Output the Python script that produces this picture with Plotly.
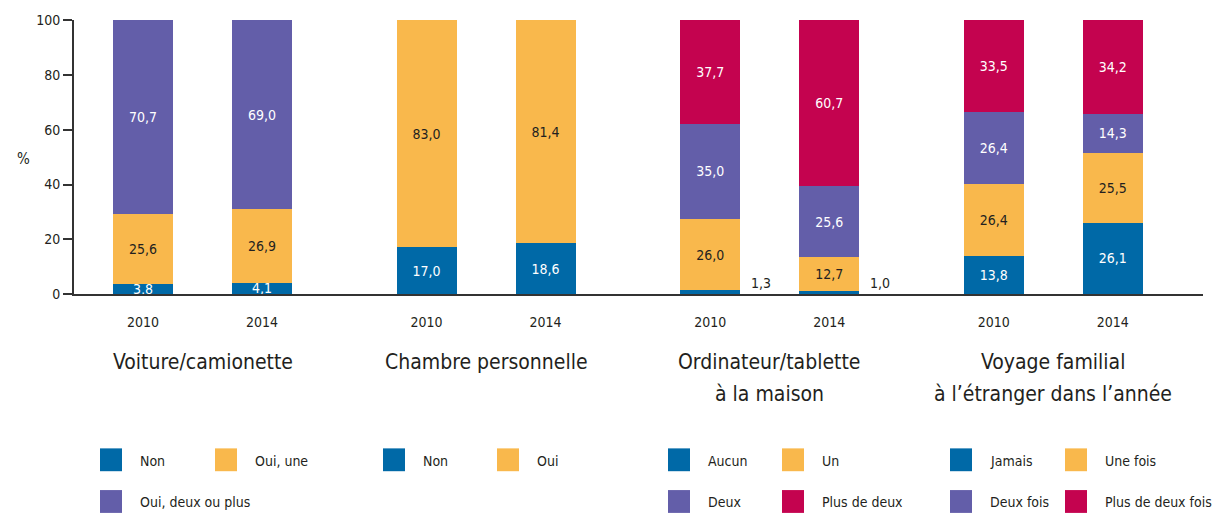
import plotly.graph_objects as go

# ---------------- data ----------------
years = ["2010", "2014"]
group_labels = ["Voiture/camionette", "Chambre personnelle",
                "Ordinateur/tablette\nà la maison",
                "Voyage familial\nà l’étranger dans l’année"]

voiture_non = [3.8, 4.1]
voiture_une = [25.6, 26.9]
voiture_deux = [70.7, 69.0]

chambre_non = [17.0, 18.6]
chambre_oui = [83.0, 81.4]

ordi_aucun = [1.3, 1.0]
ordi_un = [26.0, 12.7]
ordi_deux = [35.0, 25.6]
ordi_plus = [37.7, 60.7]

voyage_jamais = [13.8, 26.1]
voyage_une = [26.4, 25.5]
voyage_deux = [26.4, 14.3]
voyage_plus = [33.5, 34.2]

series_by_group = [
    [voiture_non, voiture_une, voiture_deux],
    [chambre_non, chambre_oui],
    [ordi_aucun, ordi_un, ordi_deux, ordi_plus],
    [voyage_jamais, voyage_une, voyage_deux, voyage_plus],
]
legend_labels = [
    ["Non", "Oui, une", "Oui, deux ou plus"],
    ["Non", "Oui"],
    ["Aucun", "Un", "Deux", "Plus de deux"],
    ["Jamais", "Une fois", "Deux fois", "Plus de deux fois"],
]

# ---------------- style ----------------
FONT = "DejaVu Sans Condensed, DejaVu Sans, sans-serif"
colors = ["#0069a7", "#f9b84c", "#635ea9", "#c4034f"]
text_colors = ["white", "#231f20", "white", "white"]
DARK = "#231f20"
STEP = 2.383          # distance between groups (in bar units)
BAR_W = 0.505
W, H = 1220, 515
ML, MR, MT, MB = 74, 17, 18, 221
PW, PH = W - ML - MR, H - MT - MB
X0 = 143  # pixel centre of first bar
UNIT = 119  # pixels per bar unit
OUTSIDE_THRESHOLD = 2.0
SMALL = 14


def fmt(v):
    return f"{v:.1f}".replace(".", ",")


def px2x(px):
    return (px - ML) / PW


def py2y(py):
    return (MT + PH - py) / PH


fig = go.Figure()

n_levels = max(len(s) for s in series_by_group)
positions = [g * STEP + i for g in range(len(series_by_group)) for i in range(len(years))]
annotations = []

for k in range(n_levels):
    ys, texts = [], []
    for g, series in enumerate(series_by_group):
        for i in range(len(years)):
            if k < len(series):
                v = series[k][i]
                ys.append(v)
                if v < OUTSIDE_THRESHOLD:
                    texts.append("")
                    annotations.append(dict(
                        x=g * STEP + i + 0.43, y=4.0, xref="x", yref="y",
                        text=fmt(v), showarrow=False,
                        font=dict(family=FONT, size=SMALL, color=DARK)))
                else:
                    texts.append(fmt(v))
            else:
                ys.append(None)
                texts.append("")
    fig.add_trace(go.Bar(
        x=positions, y=ys, width=BAR_W, marker=dict(color=colors[k], line=dict(width=0)),
        text=texts, textposition="inside", insidetextanchor="middle",
        textangle=0, constraintext="none",
        insidetextfont=dict(family=FONT, size=SMALL, color=text_colors[k]),
        showlegend=False, hoverinfo="skip", cliponaxis=False))

# group labels (one annotation per line for wider spacing)
line_y = [362, 395]
for g, lab in enumerate(group_labels):
    for j, line in enumerate(lab.split("\n")):
        annotations.append(dict(
            x=g * STEP + 0.5, y=py2y(line_y[j]), xref="x", yref="paper",
            text=line, showarrow=False, yanchor="middle",
            font=dict(family=FONT, size=21, color=DARK)))

# % label
annotations.append(dict(x=px2x(15), y=py2y(158), xref="paper", yref="paper",
                        text="%", showarrow=False,
                        font=dict(family=FONT, size=15, color=DARK)))

# custom legends
legend_sq_x = [[100, 215], [383, 497], [668, 782], [950, 1065]]
legend_row_y = [461, 503]
SQ_W, SQ_H = 22, 23
TEXT_GAP = 38
shapes = []
for g, labels in enumerate(legend_labels):
    for k, lab in enumerate(labels):
        row, col = divmod(k, 2)
        sx = legend_sq_x[g][col]
        cy = legend_row_y[row]
        shapes.append(dict(type="rect", xref="paper", yref="paper",
                           x0=px2x(sx), x1=px2x(sx + SQ_W),
                           y0=py2y(cy + SQ_H / 2), y1=py2y(cy - SQ_H / 2),
                           fillcolor=colors[k], line=dict(width=0)))
        annotations.append(dict(x=px2x(sx + TEXT_GAP), y=py2y(cy + 1), xref="paper", yref="paper",
                                text=lab, showarrow=False, xanchor="left", yanchor="middle",
                                font=dict(family=FONT, size=SMALL, color=DARK)))

fig.update_layout(
    width=W, height=H, margin=dict(l=ML, r=MR, t=MT, b=MB, pad=0),
    barmode="stack", plot_bgcolor="white", paper_bgcolor="white",
    font=dict(family=FONT, size=SMALL, color=DARK),
    showlegend=False, annotations=annotations, shapes=shapes,
    xaxis=dict(range=[(ML - X0) / UNIT, (W - MR - X0) / UNIT],
               tickvals=positions, ticktext=years * len(series_by_group),
               showline=True, linecolor="#333", linewidth=2, ticks="",
               showgrid=False, zeroline=False, ticklabelstandoff=14,
               tickfont=dict(family=FONT, size=SMALL, color=DARK)),
    yaxis=dict(range=[0, 100.15], tickvals=[0, 20, 40, 60, 80, 100],
               showline=True, linecolor="#333", linewidth=2,
               ticks="outside", ticklen=9, tickwidth=2, tickcolor="#333",
               showgrid=False, zeroline=False,
               tickfont=dict(family=FONT, size=SMALL, color=DARK)),
)

fig.write_html("out.html")
